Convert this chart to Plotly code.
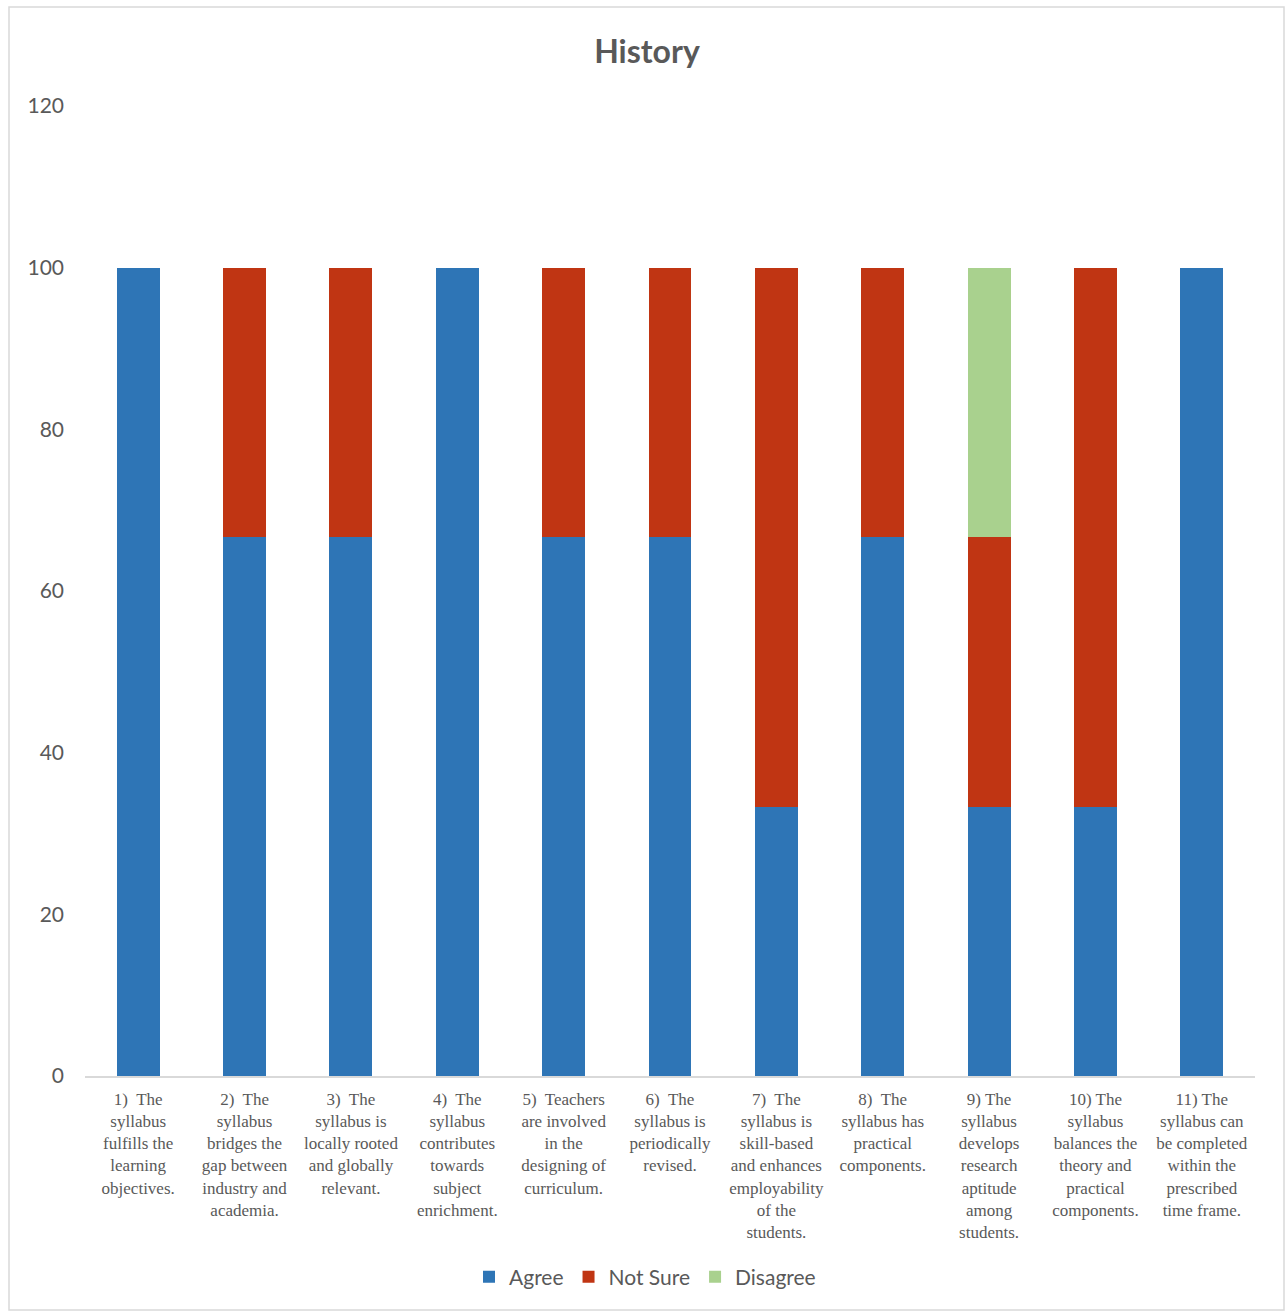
import plotly.graph_objects as go

categories = [
    "1)  The<br>syllabus<br>fulfills the<br>learning<br>objectives.",
    "2)  The<br>syllabus<br>bridges the<br>gap between<br>industry and<br>academia.",
    "3)  The<br>syllabus is<br>locally rooted<br>and globally<br>relevant.",
    "4)  The<br>syllabus<br>contributes<br>towards<br>subject<br>enrichment.",
    "5)  Teachers<br>are involved<br>in the<br>designing of<br>curriculum.",
    "6)  The<br>syllabus is<br>periodically<br>revised.",
    "7)  The<br>syllabus is<br>skill-based<br>and enhances<br>employability<br>of the<br>students.",
    "8)  The<br>syllabus has<br>practical<br>components.",
    "9) The<br>syllabus<br>develops<br>research<br>aptitude<br>among<br>students.",
    "10) The<br>syllabus<br>balances the<br>theory and<br>practical<br>components.",
    "11) The<br>syllabus can<br>be completed<br>within the<br>prescribed<br>time frame.",
]

agree = [100, 66.67, 66.67, 100, 66.67, 66.67, 33.33, 66.67, 33.33, 33.33, 100]
not_sure = [0, 33.33, 33.33, 0, 33.33, 33.33, 66.67, 33.33, 33.33, 66.67, 0]
disagree = [0, 0, 0, 0, 0, 0, 0, 0, 33.33, 0, 0]

series = [
    ("Agree", agree, "#2E75B6"),
    ("Not Sure", not_sure, "#C03513"),
    ("Disagree", disagree, "#A9D18E"),
]

fig = go.Figure()
for name, vals, color in series:
    fig.add_trace(go.Bar(
        x=list(range(len(categories))), y=vals, name=name,
        marker=dict(color=color, line=dict(width=0)),
    ))

W, H = 1285, 1311
L, R, T, B = 85, 30, 106, 235
pw, ph = W - L - R, H - T - B

def px_x(p):
    return (p - L) / pw

def px_y(p):
    return (H - B - p) / ph

fig.update_layout(
    width=W, height=H,
    barmode="stack", bargap=0.596,
    margin=dict(l=L, r=R, t=T, b=B),
    paper_bgcolor="white", plot_bgcolor="white",
    title=dict(text="<b>History</b>", x=647 / W, xanchor="center",
               y=1 - 52 / H, yanchor="middle",
               font=dict(family="Lato, Open Sans, sans-serif", size=32, color="#595959")),
    legend=dict(orientation="h", x=px_x(645), xanchor="center",
                y=px_y(1277), yanchor="middle",
                font=dict(family="Lato, Open Sans, sans-serif", size=21, color="#595959"),
                itemwidth=30, traceorder="normal"),
    xaxis=dict(
        tickmode="array", tickvals=list(range(len(categories))), ticktext=categories,
        tickangle=0, range=[-0.5, len(categories) - 0.5],
        showline=True, linecolor="#D9D9D9", linewidth=1.5,
        showgrid=False, ticks="", zeroline=False,
        ticklabelstandoff=7,
        tickfont=dict(family="Liberation Serif, Times New Roman, serif", size=17, color="#595959"),
    ),
    yaxis=dict(
        range=[0, 120], tickvals=[0, 20, 40, 60, 80, 100, 120],
        showgrid=False, zeroline=False, showline=False, ticks="",
        ticklabelstandoff=20,
        tickfont=dict(family="Lato, Open Sans, sans-serif", size=21, color="#595959"),
    ),
    shapes=[dict(
        type="rect", xref="paper", yref="paper",
        x0=px_x(9), x1=px_x(1284), y0=px_y(1310), y1=px_y(7),
        line=dict(color="#D9D9D9", width=1.5), fillcolor="rgba(0,0,0,0)", layer="below",
    )],
)

fig.write_html("out.html")
